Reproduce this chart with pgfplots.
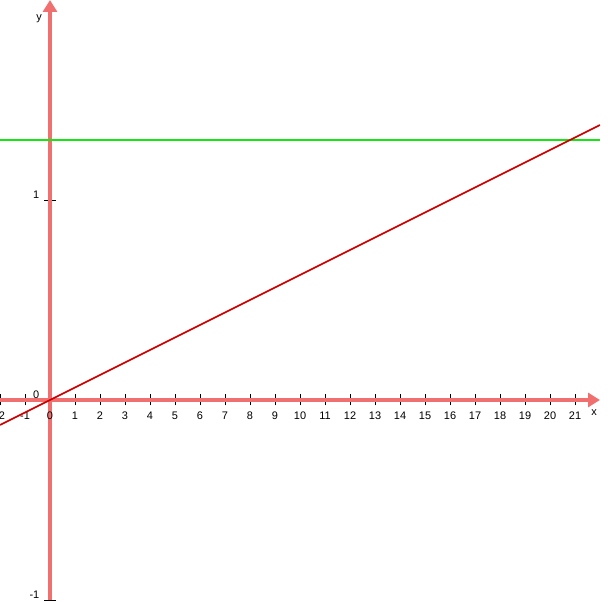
\documentclass[border=0pt]{standalone}
\usepackage{fontspec}
\setmainfont{Liberation Sans}
\usepackage{pgfplots}
\pgfplotsset{compat=1.18}
\usetikzlibrary{arrows.meta}

\definecolor{axisred}{RGB}{240,112,112}
\definecolor{linegreen}{RGB}{20,230,20}
\definecolor{linered}{RGB}{204,0,0}

\begin{document}
\begin{tikzpicture}
  \useasboundingbox (0,0) rectangle (608bp,602bp);
  \begin{axis}[
    at={(0,2bp)}, anchor=south west,
    x=25bp, y=200bp,
    xmin=-2, xmax=22, ymin=-1, ymax=2,
    enlargelimits=false,
    axis lines=middle,
    axis line style={axisred, line width=4bp, -{Triangle[length=12bp,width=14bp]}},
    hide obscured x ticks=false,
    hide obscured y ticks=false,
    xtick={-2,...,21},
    xticklabels={-2,-1,0,1,2,3,4,5,6,7,8,9,10,11,12,13,14,15,16,17,18,19,20,21},
    ytick={-1,0,1},
    yticklabels={-1,0,1},
    major tick length=11bp,
    tick align=center,
    tick style={black, line width=0.8bp},
    xticklabel style={font=\fontsize{11}{11}\selectfont, anchor=north, inner sep=0pt, yshift=-6bp},
    yticklabel style={font=\fontsize{11}{11}\selectfont, anchor=south east, inner sep=0pt, xshift=-5bp, yshift=1bp},
    xlabel={x}, ylabel={y},
    xlabel style={at={(rel axis cs:0.99,0.313)}, anchor=center, inner sep=0pt, font=\fontsize{11}{11}\selectfont},
    ylabel style={at={(rel axis cs:0.065,0.968)}, anchor=center, inner sep=0pt, rotate=0, font=\fontsize{11}{11}\selectfont},
    ]
    \addplot[linegreen, line width=1.6bp] coordinates {(-2,1.3) (22,1.3)};
    \addplot[linered, line width=1.6bp] coordinates {(-2,-0.125) (22,1.375)};
  \end{axis}
\end{tikzpicture}
\end{document}
